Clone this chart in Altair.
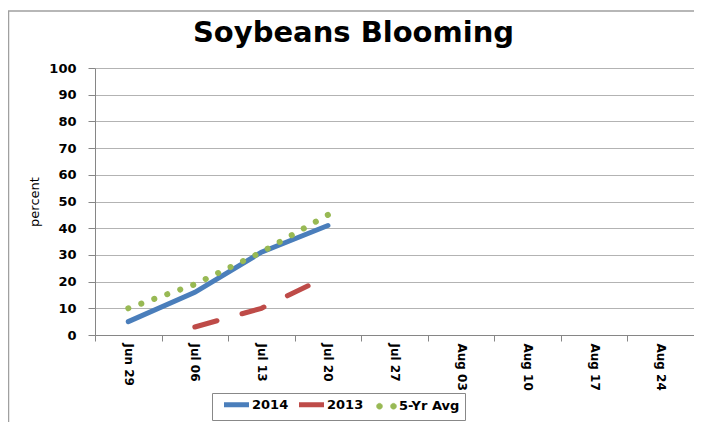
import altair as alt
import pandas as pd

weeks = ["Jun 29", "Jul 06", "Jul 13", "Jul 20", "Jul 27", "Aug 03", "Aug 10", "Aug 17", "Aug 24"]
series_names = ["2014", "2013", "5-Yr Avg"]
vals_2014 = [5, 16, 31, 41]
vals_2013 = [None, 3, 10, 22]
vals_avg = [10, 19, 31, 45]
colors = ["#4A7EBB", "#BE4B48", "#98B954"]

rows = []
for name, vals in zip(series_names, [vals_2014, vals_2013, vals_avg]):
    for w, v in zip(weeks, vals):
        if v is not None:
            rows.append({"week": w, "series": name, "value": v})
df = pd.DataFrame(rows)

W, H = 599, 267

line_sym = "M-3.125,0H3.125"
dot_sym = ("M-1.75,0a0.75,0.75 0 1,0 1.5,0a0.75,0.75 0 1,0 -1.5,0Z"
           "M1.75,0a0.75,0.75 0 1,0 1.5,0a0.75,0.75 0 1,0 -1.5,0Z")
is_avg = "datum.value === '5-Yr Avg'"
sym_expr = f"{is_avg} ? '{dot_sym}' : '{line_sym}'"

x_enc = alt.X("week:N", sort=weeks,
              scale=alt.Scale(type="band", domain=weeks, paddingInner=0, paddingOuter=0),
              axis=alt.Axis(title=None, labelAngle=90, labelFont="DejaVu Sans", labelFontWeight="bold",
                            labelFontSize=12, labelColor="black", tickSize=6, labelPadding=2,
                            tickBand="extent", domainColor="#868686", tickColor="#868686", grid=False))
y_enc = alt.Y("value:Q", scale=alt.Scale(domain=[0, 100], nice=False),
              axis=alt.Axis(values=list(range(0, 101, 10)), title="percent", grid=True,
                            gridColor="#b3b3b3", domainColor="#868686", tickColor="#868686",
                            tickSize=7, labelPadding=12, labelFont="DejaVu Sans", labelFontWeight="bold",
                            labelFontSize=13, labelColor="black", titleFont="DejaVu Sans",
                            titleFontWeight="normal", titleFontSize=13, titleColor="black",
                            titlePadding=7))
color_enc = alt.Color("series:N", scale=alt.Scale(domain=series_names, range=colors),
                      legend=alt.Legend(title=None, orient="none", legendX=117, legendY=325,
                                        direction="horizontal", symbolType={"expr": sym_expr},
                                        symbolSize=64,
                                        symbolStrokeWidth={"expr": f"{is_avg} ? 0.5 : 5"},
                                        symbolFillColor="#98B954", symbolDash=[1, 0],
                                        symbolOffset=13, labelOffset=9,
                                        labelFont="DejaVu Sans", labelFontWeight="bold",
                                        labelFontSize=13, labelColor="black",
                                        strokeColor="#888888", padding=5, columnPadding=0))

base = alt.Chart(df).encode(x=x_enc, y=y_enc, color=color_enc)

l2014 = base.transform_filter(alt.datum.series == "2014").mark_line(strokeCap="round", strokeWidth=5)
l2013 = base.transform_filter(alt.datum.series == "2013").mark_line(
    strokeCap="round", strokeWidth=5, strokeDash=[23, 26])
lavg = base.transform_filter(alt.datum.series == "5-Yr Avg").mark_line(
    strokeCap="round", strokeWidth=6, strokeDash=[0.1, 13.7])

frame = alt.Chart(alt.Data(values=[{}])).mark_rect(fill=None, stroke="#a0a0a0", strokeWidth=1.5).encode(
    x=alt.value(-86.5), x2=alt.value(700), y=alt.value(-57), y2=alt.value(400)
)

chart = alt.layer(frame, l2014, l2013, lavg).properties(
    width=W, height=H,
    title=alt.TitleParams("Soybeans Blooming", fontSize=29, font="DejaVu Sans", fontWeight="bold",
                          color="black", offset=18, baseline="alphabetic", dy=79, dx=-41),
    autosize=alt.AutoSizeParams(type="none"),
    padding={"left": 87, "top": 60, "right": 0, "bottom": 95},
).configure_view(stroke=None)

chart.save("out.html", embed_options={"renderer": "svg", "actions": False})
